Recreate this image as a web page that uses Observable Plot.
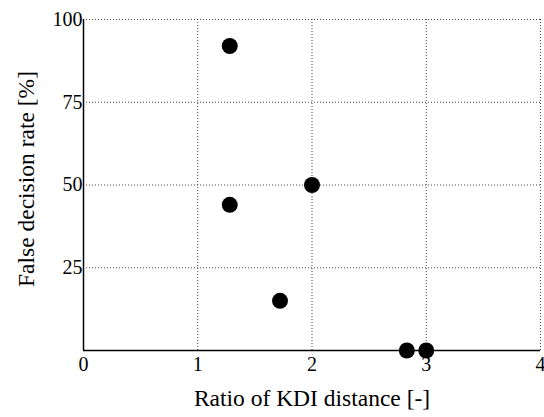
<!DOCTYPE html>
<html>
<head>
<meta charset="utf-8">
<script src="https://cdn.jsdelivr.net/npm/d3@7"></script>
<script src="https://cdn.jsdelivr.net/npm/@observablehq/plot@0.6"></script>
<style>
  html, body { margin: 0; padding: 0; background: #fff; }
  #chart svg { display: block; }
</style>
</head>
<body>
<div id="chart"></div>
<script>
const ratio = [1.28, 1.28, 2.0, 1.72, 2.83, 3.0];
const falseRate = [92, 44, 50, 15, 0, 0];
const xTicks = [0, 1, 2, 3, 4];
const yTicks = [25, 50, 75, 100];
const xLabel = "Ratio of KDI distance [-]";
const yLabel = "False decision rate [%]";

const data = ratio.map((r, i) => ({ratio: r, rate: falseRate[i]}));
const font = "'Liberation Serif', 'Times New Roman', serif";

const chart = Plot.plot({
  width: 544,
  height: 417,
  marginLeft: 83,
  marginRight: 4,
  marginTop: 19,
  marginBottom: 67,
  style: {fontFamily: font, fontSize: "20px", background: "#fff", color: "#000"},
  x: {domain: [0, 4]},
  y: {domain: [0, 100]},
  marks: [
    Plot.ruleX(xTicks.filter(d => d > 0), {x: d => d, stroke: "#444", strokeWidth: 1, strokeDasharray: "1,2"}),
    Plot.ruleY(yTicks, {y: d => d, stroke: "#444", strokeWidth: 1, strokeDasharray: "1,2"}),
    Plot.ruleX([0], {stroke: "#000", strokeWidth: 1.5}),
    Plot.ruleY([0], {stroke: "#000", strokeWidth: 1.5}),
    Plot.axisX({ticks: xTicks, tickSize: 0, tickPadding: 6, tickFormat: d => String(d), fontSize: 20, fontFamily: font, label: null}),
    Plot.axisY({ticks: yTicks, tickSize: 0, tickPadding: 1, tickFormat: d => String(d), fontSize: 20, fontFamily: font, label: null}),
    Plot.text([xLabel], {frameAnchor: "bottom", dy: 55, fontSize: 23.5, fontFamily: font, textAnchor: "middle", text: d => d}),
    Plot.text([yLabel], {frameAnchor: "left", dx: -57, dy: -6, rotate: -90, fontSize: 23.5, fontFamily: font, textAnchor: "middle", text: d => d}),
    Plot.dot(data, {x: "ratio", y: "rate", r: 8, fill: "#000", stroke: "none"})
  ]
});
document.getElementById("chart").append(chart);
</script>
</body>
</html>
